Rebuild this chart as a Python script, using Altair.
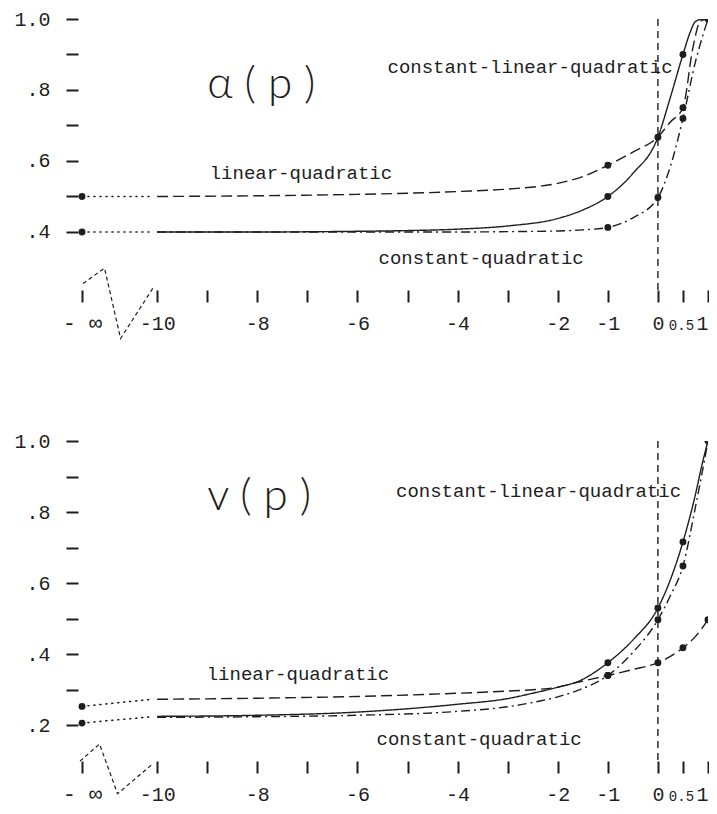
import altair as alt
import pandas as pd

INK = "#1e1e1e"
MONO = "Liberation Mono"

# ---------------- shared x axis ----------------
x_ticks = [-11.5, -10, -9, -8, -7, -6, -5, -4, -3, -2, -1, 0, 0.5, 1]
x_labels = ["- ∞", "-10", "", "-8", "", "-6", "", "-4", "", "-2", "-1", "0", "0.5", "1"]
x_domain = [-11.58, 1.0]
neg_inf = -11.5

# ---------------- panel A : alpha(p) ----------------
a_y_ticks = [0.4, 0.5, 0.6, 0.7, 0.8, 0.9, 1.0]
a_y_labels = [".4", "", ".6", "", ".8", "", "1.0"]
a_y_domain = [0.2366, 1.0]

a_clq_x = [-10, -8, -6, -5, -4, -3, -2, -1.5, -1, -0.5, 0, 0.25, 0.5, 0.65, 0.75, 0.9, 1.0]
a_clq_y = [0.400, 0.400, 0.402, 0.404, 0.408, 0.417, 0.438, 0.462, 0.500, 0.565, 0.667, 0.780, 0.900, 0.965, 0.993, 1.0, 1.0]
a_lq_x = [-10, -8, -6, -4, -3, -2, -1.5, -1, -0.5, 0, 0.25, 0.5, 0.7, 0.85, 1.0]
a_lq_y = [0.500, 0.502, 0.506, 0.514, 0.521, 0.537, 0.556, 0.588, 0.625, 0.668, 0.710, 0.750, 0.920, 0.995, 1.0]
a_cq_x = [-10, -6, -4, -3, -2, -1.5, -1, -0.5, 0, 0.25, 0.5, 0.75, 1.0]
a_cq_y = [0.400, 0.400, 0.400, 0.401, 0.403, 0.406, 0.413, 0.440, 0.497, 0.585, 0.720, 0.880, 1.0]
a_dot_x = [neg_inf, neg_inf, -1, -1, -1, 0, 0, 0.5, 0.5, 0.5, 1]
a_dot_y = [0.5, 0.4, 0.588, 0.5, 0.413, 0.667, 0.497, 0.90, 0.75, 0.72, 1.0]
a_conn_lq = ([neg_inf, -10.1], [0.5, 0.5])
a_conn_low = ([neg_inf, -10.1], [0.4, 0.4])
a_zig_x = [-11.48, -11.05, -10.73, -10.06]
a_zig_y = [0.255, 0.298, 0.100, 0.247]
a_text = ["constant-linear-quadratic", "linear-quadratic", "constant-quadratic"]
a_text_x = [-5.40, -8.95, -5.58]
a_text_y = [0.864, 0.565, 0.328]
a_title = "α ( p  )"
a_title_pos = (-9.0, 0.815)

# ---------------- panel B : v(p) ----------------
b_y_ticks = [0.2, 0.3, 0.4, 0.5, 0.6, 0.7, 0.8, 0.9, 1.0]
b_y_labels = [".2", "", ".4", "", ".6", "", ".8", "", "1.0"]
b_y_domain = [0.0993, 1.0]

b_clq_x = [-10, -8, -6, -4, -3, -2.5, -2, -1.6, -1, -0.5, 0, 0.25, 0.5, 0.75, 0.875, 1.0]
b_clq_y = [0.225, 0.228, 0.237, 0.259, 0.275, 0.290, 0.307, 0.323, 0.376, 0.440, 0.530, 0.610, 0.716, 0.850, 0.930, 1.0]
b_lq_x = [-10, -8, -6, -4, -3, -2.5, -2, -1.6, -1, -0.5, 0, 0.5, 0.75, 1.0]
b_lq_y = [0.273, 0.276, 0.281, 0.290, 0.296, 0.300, 0.307, 0.321, 0.340, 0.357, 0.376, 0.418, 0.450, 0.497]
b_cq_x = [-10, -8, -6, -4, -3, -2.5, -2, -1.6, -1, -0.5, 0, 0.25, 0.5, 0.75, 0.875, 1.0]
b_cq_y = [0.222, 0.224, 0.228, 0.239, 0.252, 0.264, 0.280, 0.298, 0.340, 0.405, 0.497, 0.565, 0.648, 0.815, 0.905, 1.0]
b_dot_x = [neg_inf, neg_inf, -1, -1, -1, 0, 0, 0, 0.5, 0.5, 0.5, 1, 1]
b_dot_y = [0.253, 0.206, 0.376, 0.340, 0.340, 0.530, 0.497, 0.376, 0.716, 0.648, 0.418, 1.0, 0.497]
b_conn_lq = ([neg_inf, -10.1], [0.253, 0.273])
b_conn_low = ([neg_inf, -10.1], [0.206, 0.224])
b_zig_x = [-11.54, -11.15, -10.79, -10.09]
b_zig_y = [0.099, 0.147, 0.007, 0.091]
b_text = ["constant-linear-quadratic", "linear-quadratic", "constant-quadratic"]
b_text_x = [-5.23, -9.01, -5.62]
b_text_y = [0.860, 0.343, 0.161]
b_title = "v ( p  )"
b_title_pos = (-9.0, 0.842)


def label_expr(vals, labels):
    expr = "''"
    for v, l in zip(vals, labels):
        expr = f"abs(datum.value - ({v})) < 1e-6 ? '{l}' : ({expr})"
    return expr


W = 630


def panel(y_ticks, y_labels, y_domain, height, curves, dots, conns, zig, texts, title):
    xaxis = alt.Axis(
        values=x_ticks, labelExpr=label_expr(x_ticks, x_labels), domain=False, grid=False,
        tickSize=12, tickWidth=2, tickColor=INK, labelColor=INK, labelFont=MONO,
        labelFontSize={"condition": [{"test": "datum.value == 0.5", "value": 14},
                                     {"test": "datum.value < -11", "value": 22}],
                       "value": 20},
        labelAlign={"condition": {"test": "datum.value == 1", "value": "right"}, "value": "center"},
        labelOffset={"condition": {"test": "datum.value == 0.5", "value": -2}, "value": 0},
        labelBaseline="alphabetic", labelPadding=27,
        labelOverlap=False, labelFlush=False, labelBound=False, title=None,
    )
    yaxis = alt.Axis(
        values=y_ticks, labelExpr=label_expr(y_ticks, y_labels), domain=False, grid=False,
        tickSize=12, tickWidth=2, tickColor=INK, labelColor=INK, labelFont=MONO, labelFontSize=20,
        labelPadding=16, labelOverlap=False, labelFlush=False, labelBound=False, title=None,
    )
    X = lambda f="x": alt.X(f"{f}:Q", scale=alt.Scale(domain=x_domain, nice=False, zero=False), axis=xaxis)
    Y = lambda f="y": alt.Y(f"{f}:Q", scale=alt.Scale(domain=y_domain, nice=False, zero=False), axis=yaxis)

    rows = []
    for name, xs, ys in curves:
        for xv, yv in zip(xs, ys):
            rows.append({"series": name, "x": xv, "y": yv})
    curve_df = pd.DataFrame(rows)

    crow = []
    for i, (xs, ys) in enumerate(conns):
        for xv, yv in zip(xs, ys):
            crow.append({"series": f"c{i}", "x": xv, "y": yv})
    conn_df = pd.DataFrame(crow)

    dot_df = pd.DataFrame({"x": dots[0], "y": dots[1]})
    zig_df = pd.DataFrame({"x": zig[0], "y": zig[1]})
    rule_df = pd.DataFrame({"x": [0.0], "y": [1.0], "y2": [y_domain[0]]})
    text_df = pd.DataFrame({"text": texts[0], "x": texts[1], "y": texts[2]})
    title_df = pd.DataFrame({"text": [title[0]], "x": [title[1][0]], "y": [title[1][1]]})

    lines = alt.Chart(curve_df).mark_line(
        interpolate="monotone", color=INK, strokeWidth=1.4, clip=True
    ).encode(
        x=X(), y=Y(),
        strokeDash=alt.StrokeDash(
            "series:N",
            scale=alt.Scale(domain=["clq", "lq", "cq"], range=[[1, 0], [11, 5], [9, 4, 2, 4]]),
            legend=None,
        ),
    )
    conn = alt.Chart(conn_df).mark_line(
        color=INK, strokeWidth=1.6, strokeDash=[1, 5], strokeCap="round"
    ).encode(x=X(), y=Y(), detail="series:N")
    pts = alt.Chart(dot_df).mark_circle(size=48, color=INK, opacity=1, clip=True).encode(x=X(), y=Y())
    zz = alt.Chart(zig_df).mark_line(color=INK, strokeWidth=1.2, strokeDash=[4, 3]).encode(x=X(), y=Y())
    rule = alt.Chart(rule_df).mark_rule(color=INK, strokeWidth=1.4, strokeDash=[7, 5]).encode(
        x=X(), y=Y(), y2="y2:Q"
    )
    txt = alt.Chart(text_df).mark_text(
        align="left", baseline="middle", font=MONO, fontSize=19, color=INK
    ).encode(x=X(), y=Y(), text="text:N")
    ttl = alt.Chart(title_df).mark_text(
        align="left", baseline="middle", font="Lato", fontWeight=300, fontSize=44, color=INK
    ).encode(x=X(), y=Y(), text="text:N")

    return alt.layer(rule, conn, lines, zz, pts, txt, ttl).properties(width=W, height=height)


top = panel(
    a_y_ticks, a_y_labels, a_y_domain, 271,
    [("clq", a_clq_x, a_clq_y), ("lq", a_lq_x, a_lq_y), ("cq", a_cq_x, a_cq_y)],
    (a_dot_x, a_dot_y), [a_conn_lq, a_conn_low], (a_zig_x, a_zig_y),
    (a_text, a_text_x, a_text_y), (a_title, a_title_pos),
)
bottom = panel(
    b_y_ticks, b_y_labels, b_y_domain, 320,
    [("clq", b_clq_x, b_clq_y), ("lq", b_lq_x, b_lq_y), ("cq", b_cq_x, b_cq_y)],
    (b_dot_x, b_dot_y), [b_conn_lq, b_conn_low], (b_zig_x, b_zig_y),
    (b_text, b_text_x, b_text_y), (b_title, b_title_pos),
)

chart = alt.vconcat(top, bottom, spacing=90).properties(
    padding={"left": 5, "top": 1, "right": 0, "bottom": 8},
    background="white",
).configure_view(stroke=None)

chart.save("out.html", embed_options={"renderer": "svg", "actions": False})
